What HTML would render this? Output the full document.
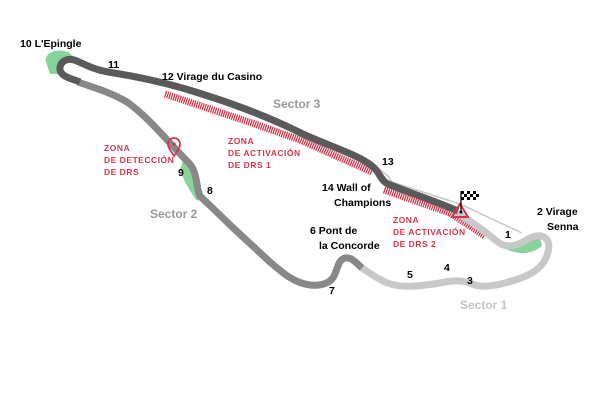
<!DOCTYPE html>
<html><head><style>
body{margin:0;background:#fff;}
svg{display:block;font-family:"Liberation Sans",sans-serif;font-weight:bold;}
</style></head><body>
<svg width="600" height="400" viewBox="0 0 600 400" xmlns="http://www.w3.org/2000/svg">
<path d="M46,62 C44,52 58,48 68,52 L78,60 L64,64 L60,74 L50,74 Z" fill="#86d49a"/>
<path d="M184,158 L196,168 L200,190 L208,202 L196,200 L186,184 L180,170 Z" fill="#86d49a"/>
<path d="M500,246 C515,255 530,256 542,246 L540,238 C530,240 520,245 500,246 Z" fill="#86d49a"/>
<path d="M378,168 L388,176 L392,182 L460,204 L522,233" fill="none" stroke="#c8c8c8" stroke-width="1.5"/>
<path d="M165,94 L252,123 L300,140 L372,172" fill="none" stroke="#d9344a" stroke-width="7" stroke-dasharray="1.3,0.9"/>
<path d="M384,190 L450,213 L485,236" fill="none" stroke="#d9344a" stroke-width="7" stroke-dasharray="1.3,0.9"/>
<path d="M455,212 C470,220 485,232 498,242 C506,249 518,246 530,238 C540,233 552,236 548,252 C545,265 535,274 515,280 C500,285 485,288 475,285 C465,281 458,279 440,283 C420,286 400,289 385,282 C375,277 368,272 362,268" fill="none" stroke="#c8c8c8" stroke-width="7" stroke-linecap="round" stroke-linejoin="round"/>
<path d="M362,268 C355,262 352,257 345,258 C338,260 338,268 334,276 C330,284 320,286 310,285 C295,283 285,275 270,262 L230,225 C215,210 208,204 200,196 C196,188 198,175 190,164 C175,150 150,118 127,102 C110,92 95,88 78,82" fill="none" stroke="#888" stroke-width="7" stroke-linecap="butt" stroke-linejoin="round"/>
<path d="M80,82 C70,78 62,77 60,70 C59,61 68,57 77,61 C88,66 96,70 108,72 C140,77 175,85 205,95 C240,106 275,120 305,135 C335,148 360,156 372,166 C380,172 380,180 388,184 C410,193 435,201 458,211" fill="none" stroke="#5a5a5a" stroke-width="7" stroke-linejoin="round"/>
<path d="M452,217 L468,217 L460,204 Z" fill="none" stroke="#d9344a" stroke-width="2"/>
<circle cx="461" cy="212" r="1.5" fill="#000"/>
<line x1="461" y1="212" x2="461" y2="191" stroke="#000" stroke-width="1.2"/>
<g fill="#000">
<rect x="461" y="191" width="3" height="3"/><rect x="467" y="191" width="3" height="3"/><rect x="473" y="191" width="3" height="3"/>
<rect x="464" y="194" width="3" height="3"/><rect x="470" y="194" width="3" height="3"/><rect x="476" y="194" width="3" height="3"/>
<rect x="461" y="197" width="3" height="3"/><rect x="467" y="197" width="3" height="3"/><rect x="473" y="197" width="3" height="3"/>
</g>
<path d="M174,156 C170,150 168,147 168,144 A6,6 0 1 1 180,144 C180,147 178,150 174,156 Z" fill="none" stroke="#d9344a" stroke-width="1.8"/>
<circle cx="174" cy="144" r="1.6" fill="#d9344a"/>
<g font-size="10.5" fill="#000">
<text x="20" y="47">10 L'Epingle</text>
<text x="108" y="68">11</text>
<text x="162" y="80">12 Virage du Casino</text>
<text x="382" y="165">13</text>
<text x="322" y="191">14 Wall of</text>
<text x="334" y="206">Champions</text>
<text x="310" y="234">6 Pont de</text>
<text x="319" y="249">la Concorde</text>
<text x="537" y="215">2 Virage</text>
<text x="547" y="230">Senna</text>
<text x="505" y="238">1</text>
<text x="178" y="176">9</text>
<text x="207" y="194">8</text>
<text x="329" y="294">7</text>
<text x="407" y="278">5</text>
<text x="444" y="271">4</text>
<text x="467" y="284">3</text>
</g>
<g font-size="12" fill="#999">
<text x="273" y="108">Sector 3</text>
<text x="150" y="218">Sector 2</text>
<text x="460" y="309" fill="#c4c4c4">Sector 1</text>
</g>
<g font-size="8.5" fill="#d9344a" letter-spacing="0.5">
<text x="104" y="151">ZONA</text>
<text x="104" y="163">DE DETECCIÓN</text>
<text x="104" y="175">DE DRS</text>
<text x="228" y="144">ZONA</text>
<text x="228" y="156">DE ACTIVACIÓN</text>
<text x="228" y="168">DE DRS 1</text>
<text x="393" y="223">ZONA</text>
<text x="393" y="235">DE ACTIVACIÓN</text>
<text x="393" y="247">DE DRS 2</text>
</g>
</svg>
</body></html>
